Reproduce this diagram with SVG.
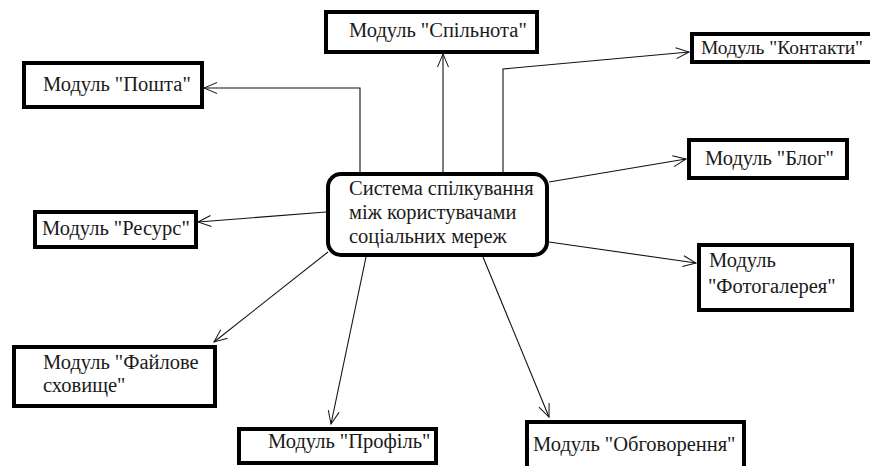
<svg xmlns="http://www.w3.org/2000/svg" width="870" height="466" viewBox="0 0 870 466">
<defs>
<marker id="arr" markerUnits="userSpaceOnUse" markerWidth="16" markerHeight="14" refX="0" refY="0" viewBox="-14 -7 16 14" orient="auto" overflow="visible">
<path d="M-13,-5.5 L0,0 L-13,5.5" fill="none" stroke="#111" stroke-width="1"/>
</marker>
</defs>
<style>
.box{fill:#fff;stroke:#000;stroke-width:4}
.t{font-size:20.5px;fill:#1a1a1a}
.c{fill:none;stroke:#111;stroke-width:1.1;marker-end:url(#arr)}
</style>
<rect width="870" height="466" fill="#fff"/>
<g id="connectors">
<polyline class="c" points="360,173 360,88 204,88"/>
<polyline class="c" points="443,173 443,54"/>
<polyline class="c" points="503,173 503,69 689,52"/>
<line class="c" x1="549" y1="182" x2="686" y2="159"/>
<line class="c" x1="549" y1="242" x2="696" y2="263"/>
<line class="c" x1="326" y1="212" x2="198" y2="222"/>
<line class="c" x1="328" y1="252" x2="214" y2="342"/>
<line class="c" x1="366" y1="257" x2="331" y2="424"/>
<line class="c" x1="483" y1="257" x2="549" y2="417"/>
</g>
<g font-family="'Liberation Serif', 'Times New Roman', serif">
<g id="center">
<rect class="box" x="328" y="174" width="219" height="81" rx="13" ry="13"/>
<text class="t"><tspan x="349" y="195">Система спілкування</tspan><tspan x="349" y="219">між користувачами</tspan><tspan x="349" y="243">соціальних мереж</tspan></text>
</g>
<g id="poshta">
<rect class="box" x="24" y="63" width="178" height="44"/>
<text class="t" x="43" y="91">Модуль "Пошта"</text>
</g>
<g id="spilnota">
<rect class="box" x="326" y="12" width="211" height="40"/>
<text class="t" x="349" y="37">Модуль "Спільнота"</text>
</g>
<g id="kontakty">
<rect class="box" x="692" y="34" width="182" height="28"/>
<text class="t" x="701" y="54" style="font-size:19.5px">Модуль "Контакти"</text>
</g>
<g id="blog">
<rect class="box" x="689" y="140" width="158" height="38"/>
<text class="t" x="705" y="165">Модуль "Блог"</text>
</g>
<g id="fotogalereya">
<rect class="box" x="699" y="245" width="153" height="65"/>
<text class="t"><tspan x="709" y="267">Модуль</tspan><tspan x="708" y="293">"Фотогалерея"</tspan></text>
</g>
<g id="resurs">
<rect class="box" x="35" y="212" width="161" height="35"/>
<text class="t" x="42" y="235">Модуль "Ресурс"</text>
</g>
<g id="faylove">
<rect class="box" x="14" y="347" width="201" height="59"/>
<text class="t"><tspan x="43" y="369">Модуль "Файлове</tspan><tspan x="43" y="392">сховище"</tspan></text>
</g>
<g id="profil">
<rect class="box" x="239" y="429" width="197" height="34"/>
<text class="t" x="268" y="448">Модуль "Профіль"</text>
</g>
<g id="obhovorennya">
<rect class="box" x="527" y="422" width="217" height="50"/>
<text class="t" x="533" y="451">Модуль "Обговорення"</text>
</g>
</g>
</svg>
